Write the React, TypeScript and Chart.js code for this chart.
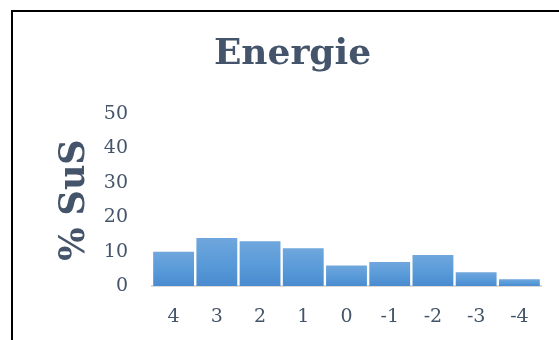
import React, { useEffect, useRef } from "react";
import { Chart, registerables } from "chart.js";

Chart.register(...registerables);

const categories: string[] = ["4", "3", "2", "1", "0", "-1", "-2", "-3", "-4"];
const values: number[] = [10, 14, 13, 11, 6, 7, 9, 4, 2];
const yMax = 50;
const yStep = 10;
const chartTitle = "Energie";
const yAxisTitle = "% SuS";

const TEXT = "#44546a";
const FONT = "'DejaVu Serif', 'Liberation Serif', serif";

export default function App() {
  const ref = useRef<HTMLCanvasElement | null>(null);

  useEffect(() => {
    if (!ref.current) return;
    const chart = new Chart(ref.current, {
      type: "bar",
      data: {
        labels: categories,
        datasets: [
          {
            data: values,
            backgroundColor: (ctx: any) => {
              const c = ctx.chart;
              const { chartArea, scales } = c;
              if (!chartArea || !scales.y) return "#5b9bd5";
              const v = ctx.raw as number;
              const top = scales.y.getPixelForValue(v);
              const base = scales.y.getPixelForValue(0);
              if (!isFinite(top) || !isFinite(base) || top === base) return "#5b9bd5";
              const g = c.ctx.createLinearGradient(0, top, 0, base);
              g.addColorStop(0, "#70a7dd");
              g.addColorStop(0.5, "#5a9bd9");
              g.addColorStop(1, "#4a8bd0");
              return g;
            },
            borderWidth: 0,
            barPercentage: 0.945,
            categoryPercentage: 1,
          },
        ],
      },
      options: {
        responsive: false,
        animation: false,
        maintainAspectRatio: false,
        layout: { padding: { left: 44, right: 18, top: 0, bottom: 0 } },
        plugins: {
          legend: { display: false },
          tooltip: { enabled: false },
          title: {
            display: true,
            text: chartTitle,
            color: TEXT,
            font: { family: FONT, size: 36, weight: "bold", lineHeight: 1.2 },
            padding: { top: 33, bottom: 38 },
          },
        },
        scales: {
          x: {
            grid: { display: false, drawTicks: false },
            border: { display: true, color: "#d9d9d9", width: 2 },
            ticks: {
              color: TEXT,
              font: { family: FONT, size: 19, lineHeight: 1.2 },
              padding: 20,
              maxRotation: 0,
            },
            afterFit: (scale: any) => {
              scale.height = 54;
            },
          },
          y: {
            min: 0,
            max: yMax,
            grid: { display: false, drawTicks: false },
            border: { display: false },
            ticks: {
              stepSize: yStep,
              color: TEXT,
              font: { family: FONT, size: 19, lineHeight: 1.2 },
              padding: 24,
            },
            title: {
              display: true,
              text: yAxisTitle,
              color: TEXT,
              font: { family: FONT, size: 35, weight: "bold", lineHeight: 1.2 },
              padding: { top: 10, bottom: 0 },
            },
            afterFit: (scale: any) => {
              scale.width = 108;
            },
          },
        },
      },
    });
    return () => chart.destroy();
  }, []);

  return (
    <div style={{ position: "fixed", left: 0, top: 0, width: 559, height: 340, background: "#fff", overflow: "hidden" }}>
      <canvas ref={ref} width={559} height={340} style={{ position: "absolute", left: 0, top: 0 }} />
      <div
        style={{
          position: "absolute",
          left: 11,
          top: 10,
          width: 700,
          height: 500,
          borderTop: "2px solid #000",
          borderLeft: "2px solid #000",
          pointerEvents: "none",
        }}
      />
    </div>
  );
}
